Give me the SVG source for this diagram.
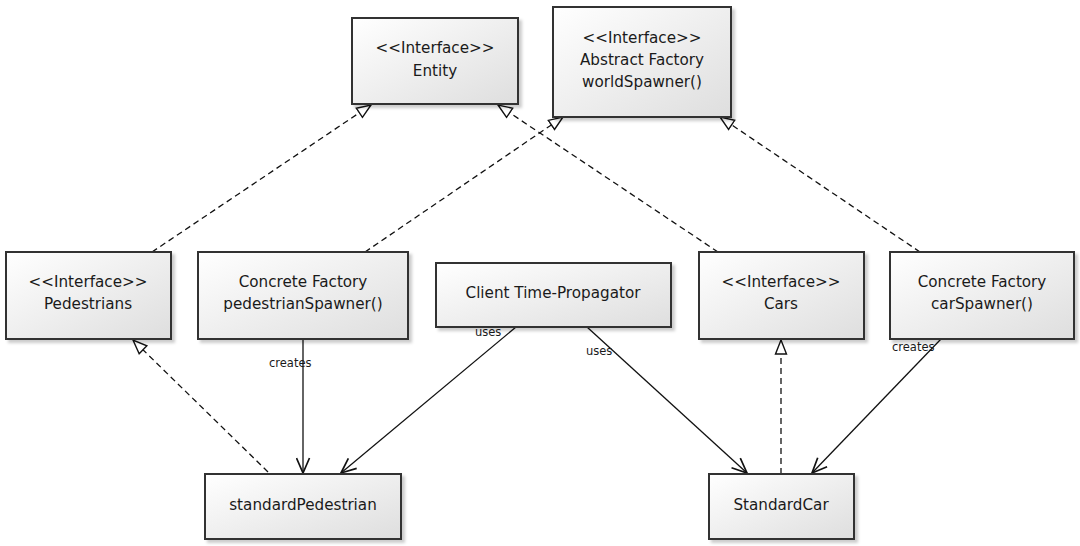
<svg xmlns="http://www.w3.org/2000/svg" width="1080" height="546" viewBox="0 0 1080 546">
<style>
.box{fill:url(#g);stroke:#333;stroke-width:2;filter:url(#sh)}
.t{font-family:"DejaVu Sans",Verdana,sans-serif;font-size:15.2px;fill:#1a1a1a;text-anchor:middle}
.l{font-family:"DejaVu Sans",Verdana,sans-serif;font-size:11.5px;fill:#1a1a1a}
.real{fill:none;stroke:#111;stroke-width:1.3;stroke-dasharray:6 4;marker-end:url(#tri)}
.dep{fill:none;stroke:#111;stroke-width:1.3;marker-end:url(#open)}
</style>
<defs>
<linearGradient id="g" x1="0" y1="0" x2="1" y2="1">
<stop offset="0" stop-color="#ffffff"/>
<stop offset="1" stop-color="#dedede"/>
</linearGradient>
<filter id="sh" x="-10%" y="-10%" width="130%" height="130%">
<feDropShadow dx="3" dy="3" stdDeviation="1.5" flood-color="#000" flood-opacity="0.2"/>
</filter>
<marker id="tri" viewBox="0 0 16 14" refX="15" refY="7" markerWidth="16" markerHeight="14" markerUnits="userSpaceOnUse" orient="auto">
<path d="M1,1.5 L15,7 L1,12.5 Z" fill="#fff" stroke="#111" stroke-width="1.4"/>
</marker>
<marker id="open" viewBox="0 0 17 15" refX="16" refY="7.5" markerWidth="17" markerHeight="15" markerUnits="userSpaceOnUse" orient="auto">
<path d="M1,1 L16,7.5 L1,14" fill="none" stroke="#111" stroke-width="1.7"/>
</marker>
</defs>

<g id="connectors">
<line class="real" x1="152" y1="252" x2="371" y2="105"/>
<line class="real" x1="365" y1="252" x2="563" y2="117"/>
<line class="real" x1="718" y1="252" x2="498" y2="105"/>
<line class="real" x1="920" y1="252" x2="720" y2="117"/>
<line class="real" x1="268" y1="472" x2="133" y2="340"/>
<line class="real" x1="781" y1="474" x2="781" y2="340"/>
<line class="dep" x1="303" y1="339" x2="303" y2="473"/>
<line class="dep" x1="516" y1="327" x2="341" y2="473"/>
<line class="dep" x1="587" y1="327" x2="747" y2="473"/>
<line class="dep" x1="941" y1="339" x2="812" y2="473"/>
<text class="l" x="269" y="367">creates</text>
<text class="l" x="475" y="336">uses</text>
<text class="l" x="586" y="355">uses</text>
<text class="l" x="892" y="351">creates</text>
</g>

<g id="entity">
<rect class="box" x="352" y="18" width="166" height="86"/>
<text class="t" x="435" y="53">&lt;&lt;Interface&gt;&gt;</text>
<text class="t" x="435" y="76">Entity</text>
</g>
<g id="abstract-factory">
<rect class="box" x="553" y="7" width="178" height="110"/>
<text class="t" x="642" y="43">&lt;&lt;Interface&gt;&gt;</text>
<text class="t" x="642" y="65">Abstract Factory</text>
<text class="t" x="642" y="87">worldSpawner()</text>
</g>
<g id="pedestrians">
<rect class="box" x="6" y="252" width="165" height="87"/>
<text class="t" x="88" y="287">&lt;&lt;Interface&gt;&gt;</text>
<text class="t" x="88" y="309">Pedestrians</text>
</g>
<g id="cf-pedestrian">
<rect class="box" x="198" y="252" width="210" height="87"/>
<text class="t" x="303" y="287">Concrete Factory</text>
<text class="t" x="303" y="309">pedestrianSpawner()</text>
</g>
<g id="client">
<rect class="box" x="436" y="263" width="235" height="64"/>
<text class="t" x="553" y="298">Client Time-Propagator</text>
</g>
<g id="cars">
<rect class="box" x="699" y="252" width="165" height="87"/>
<text class="t" x="781" y="287">&lt;&lt;Interface&gt;&gt;</text>
<text class="t" x="781" y="309">Cars</text>
</g>
<g id="cf-car">
<rect class="box" x="890" y="252" width="184" height="87"/>
<text class="t" x="982" y="287">Concrete Factory</text>
<text class="t" x="982" y="309">carSpawner()</text>
</g>
<g id="standard-pedestrian">
<rect class="box" x="205" y="474" width="196" height="65"/>
<text class="t" x="303" y="510">standardPedestrian</text>
</g>
<g id="standard-car">
<rect class="box" x="709" y="474" width="145" height="65"/>
<text class="t" x="781" y="510">StandardCar</text>
</g>
</svg>
